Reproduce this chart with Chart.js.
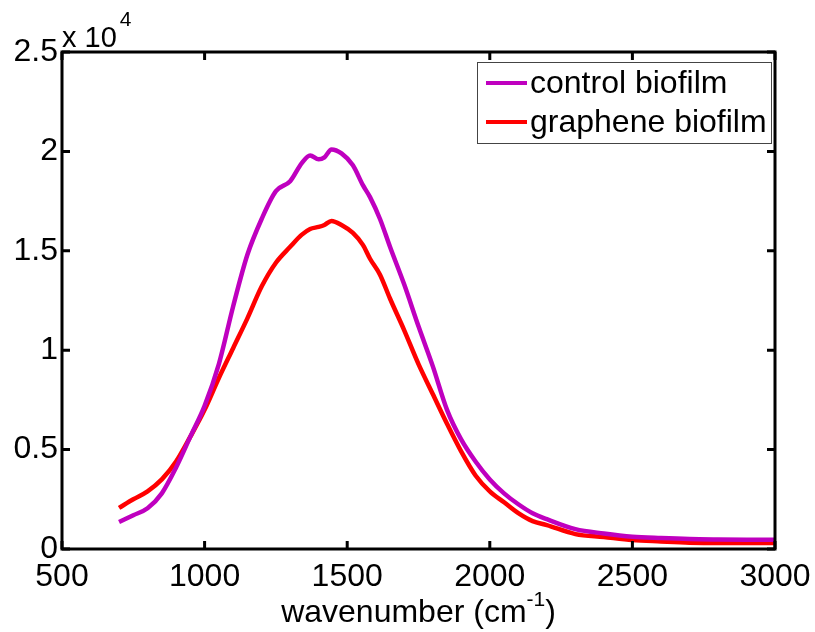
<!DOCTYPE html>
<html>
<head>
<meta charset="utf-8">
<script src="https://cdn.jsdelivr.net/npm/chart.js@4.4.0/dist/chart.umd.min.js"></script>
<style>
  html, body { margin: 0; padding: 0; background: #fff; }
  #wrap { width: 815px; height: 632px; }
</style>
</head>
<body>
<div id="wrap"><canvas id="chart"></canvas></div>
<script>
// values (intensity in counts)
const wavenumber = [700, 750, 800, 850, 900, 950, 1000, 1050, 1100, 1150, 1200, 1250, 1300, 1340, 1370, 1400, 1420, 1445, 1480, 1520, 1555, 1580, 1615, 1650, 1700, 1750, 1800, 1850, 1900, 1950, 2000, 2050, 2100, 2150, 2200, 2300, 2400, 2500, 2600, 2700, 2800, 2900, 3000];
const control = [1360, 1700, 2050, 2800, 4100, 5650, 7200, 9300, 12200, 14800, 16600, 18000, 18500, 19400, 19800, 19600, 19700, 20100, 19900, 19300, 18300, 17700, 16600, 15200, 13300, 11200, 9200, 7000, 5500, 4400, 3500, 2800, 2250, 1800, 1500, 1000, 780, 620, 550, 500, 480, 470, 470];
const graphene = [2070, 2500, 2900, 3500, 4400, 5650, 7000, 8600, 10100, 11600, 13200, 14400, 15200, 15800, 16100, 16200, 16300, 16500, 16300, 15900, 15300, 14600, 13800, 12600, 11000, 9300, 7800, 6300, 4900, 3700, 2900, 2350, 1800, 1400, 1200, 750, 600, 450, 380, 320, 300, 300, 300];
const seriesNames = ["control biofilm", "graphene biofilm"];
const seriesColors = ["#bf00bf", "#ff0000"];
const xTicks = [500, 1000, 1500, 2000, 2500, 3000];
const yTicks = [0, 5000, 10000, 15000, 20000, 25000];

const FONT = "'Liberation Sans', Arial, sans-serif";
const FS = 32;

function toPoints(ys) {
  return wavenumber.map((x, i) => ({ x: x, y: ys[i] }));
}

// box, inward ticks, exponent, axis title and legend, MATLAB style
const matlabFrame = {
  id: "matlabFrame",
  afterDraw(chart) {
    const ctx = chart.ctx;
    const ca = chart.chartArea;
    const xs = chart.scales.x;
    const ys = chart.scales.y;
    ctx.save();
    ctx.strokeStyle = "#000";
    ctx.lineWidth = 3;
    ctx.strokeRect(ca.left, ca.top, ca.right - ca.left, ca.bottom - ca.top);

    const tl = 8;
    ctx.beginPath();
    xTicks.forEach((v) => {
      const px = xs.getPixelForValue(v);
      ctx.moveTo(px, ca.bottom);
      ctx.lineTo(px, ca.bottom - tl);
      ctx.moveTo(px, ca.top);
      ctx.lineTo(px, ca.top + tl);
    });
    yTicks.forEach((v) => {
      const py = ys.getPixelForValue(v);
      ctx.moveTo(ca.left, py);
      ctx.lineTo(ca.left + tl, py);
      ctx.moveTo(ca.right, py);
      ctx.lineTo(ca.right - tl, py);
    });
    ctx.stroke();

    // exponent label
    ctx.fillStyle = "#000";
    ctx.textBaseline = "alphabetic";
    ctx.textAlign = "left";
    ctx.font = "29px " + FONT;
    ctx.fillText("x 10", ca.left, ca.top - 5);
    const w10 = ctx.measureText("x 10").width;
    ctx.font = "21px " + FONT;
    ctx.fillText("4", ca.left + w10 + 3, ca.top - 26);

    // x axis title
    const t1 = "wavenumber (cm";
    const t2 = ")";
    ctx.font = FS + "px " + FONT;
    const w1 = ctx.measureText(t1).width;
    const w2 = ctx.measureText(t2).width;
    ctx.font = "21px " + FONT;
    const ws = ctx.measureText("-1").width;
    const total = w1 + ws + w2;
    const tx = (ca.left + ca.right) / 2 - total / 2;
    const base = 622;
    ctx.font = FS + "px " + FONT;
    ctx.fillText(t1, tx, base);
    ctx.font = "21px " + FONT;
    ctx.fillText("-1", tx + w1, base - 16);
    ctx.font = FS + "px " + FONT;
    ctx.fillText(t2, tx + w1 + ws, base);

    // legend
    const lx = ca.right - 298;
    const ly = ca.top + 10;
    ctx.fillStyle = "#fff";
    ctx.fillRect(lx, ly, 294, 81);
    ctx.strokeStyle = "#444";
    ctx.lineWidth = 1;
    ctx.strokeRect(lx + 0.5, ly + 0.5, 294, 81);
    ctx.font = FS + "px " + FONT;
    ctx.textBaseline = "middle";
    seriesNames.forEach((name, i) => {
      const cy = ly + 21 + i * 39;
      ctx.strokeStyle = seriesColors[i];
      ctx.lineWidth = 4;
      ctx.beginPath();
      ctx.moveTo(lx + 9, cy);
      ctx.lineTo(lx + 50, cy);
      ctx.stroke();
      ctx.fillStyle = "#000";
      ctx.fillText(name, lx + 53, cy + 1);
    });
    ctx.restore();
  }
};

new Chart(document.getElementById("chart"), {
  type: "line",
  data: {
    datasets: [
      {
        label: seriesNames[0],
        data: toPoints(control),
        borderColor: seriesColors[0],
        borderWidth: 4.5,
        pointRadius: 0,
        cubicInterpolationMode: "monotone",
        fill: false
      },
      {
        label: seriesNames[1],
        data: toPoints(graphene),
        borderColor: seriesColors[1],
        borderWidth: 4.5,
        pointRadius: 0,
        cubicInterpolationMode: "monotone",
        fill: false
      }
    ]
  },
  options: {
    responsive: true,
    maintainAspectRatio: false,
    devicePixelRatio: 1,
    animation: false,
    layout: { padding: { left: 0, right: 40, top: 52, bottom: 0 } },
    plugins: {
      legend: { display: false },
      tooltip: { enabled: false }
    },
    scales: {
      x: {
        type: "linear",
        min: 500,
        max: 3000,
        afterBuildTicks: (s) => { s.ticks = xTicks.map((v) => ({ value: v })); },
        afterFit: (s) => { s.height = 83; s.paddingLeft = 0; s.paddingRight = 0; },
        grid: { display: false, drawTicks: false },
        border: { display: false },
        ticks: {
          color: "#000",
          padding: 9,
          maxRotation: 0,
          autoSkip: false,
          font: { family: FONT, size: FS },
          callback: (v) => String(v)
        }
      },
      y: {
        min: 0,
        max: 25000,
        afterBuildTicks: (s) => { s.ticks = yTicks.map((v) => ({ value: v })); },
        afterFit: (s) => { s.width = 62; s.paddingTop = 0; s.paddingBottom = 0; },
        grid: { display: false, drawTicks: false },
        border: { display: false },
        ticks: {
          color: "#000",
          padding: 4,
          font: { family: FONT, size: FS },
          callback: (v) => String(v / 10000)
        }
      }
    }
  },
  plugins: [matlabFrame]
});
</script>
</body>
</html>
